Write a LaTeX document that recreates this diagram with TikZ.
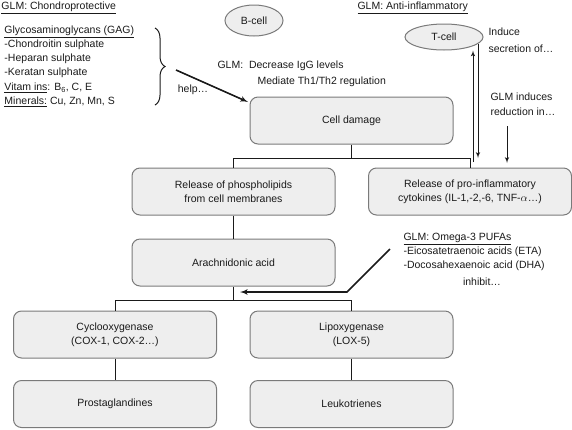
\documentclass[tikz,border=0pt]{standalone}
\usepackage{fontspec}
\setmainfont{Liberation Sans}
\usetikzlibrary{shapes,arrows,positioning,decorations.pathreplacing}
\definecolor{boxfill}{HTML}{EEEEEE}
\definecolor{boxline}{HTML}{7A7A7A}
\definecolor{ink}{HTML}{1A1A1A}
\newcommand{\glmfont}{\fontsize{10.5}{14}\selectfont}
\tikzset{
block/.style = {draw=boxline, fill=boxfill, rectangle, rounded corners=8pt, minimum height=47pt, minimum width=203pt, align=center, font=\glmfont, text=ink},
cell/.style  = {draw=boxline, fill=boxfill, ellipse, inner sep=0pt, font=\glmfont, text=ink},
tmp/.style   = {coordinate},
txt/.style   = {inner sep=0pt, align=left, font=\glmfont, text=ink},
heavy/.style = {->, line width=1.6pt}
}
\begin{document}
\begin{tikzpicture}[x=1pt, y=-1pt, >=latex', line width=1pt, draw=ink]
  \useasboundingbox (0,0) rectangle (572,429);

  % GLM texts
  \node [txt, anchor=west] (chondro) at (1,8)    {\underline{GLM: Chondroprotective}};
  \node [txt, anchor=west] (gag)     at (4,66.5) {\underline{Glycosaminoglycans (GAG)}\\-Chondroitin sulphate\\-Heparan sulphate\\-Keratan sulphate\\[1pt]\underline{Vitam ins}: B\textsubscript{6}, C, E\\\underline{Minerals:} Cu, Zn, Mn, S};
  \node [txt]              (help)    at (193,90) {help…};
  \node [cell, minimum width=58pt, minimum height=31pt] (bcell) at (254,20.5) {B-cell};
  \node [txt, anchor=west] (igg)     at (217,66) {GLM:\ \ Decrease IgG levels};
  \node [txt, anchor=west] (th)      at (257,82) {Mediate Th1/Th2 regulation};
  \node [txt, anchor=west] (anti)    at (357,7.5) {\underline{GLM: Anti-inflammatory}};
  \node [cell, minimum width=78pt, minimum height=26pt] (tcell) at (444,37) {T-cell};
  \node [txt, anchor=west] (induce)  at (488,40)    {Induce\\[3pt]secretion of…};
  \node [txt, anchor=west] (reduce)  at (490,104.5) {GLM induces\\[1pt]reduction in…};
  \node [txt, anchor=west] (omega)   at (403,252) {\underline{GLM: Omega-3 PUFAs}\\-Eicosatetraenoic acids (ETA)\\-Docosahexaenoic acid (DHA)};
  \node [txt]              (inhibit) at (482,282) {inhibit…};

  % cascade
  \node [block] (damage) at (351.5,120.5) {Cell damage};
  \node [tmp, below of=damage, node distance=37.5pt]                  (split1) {};
  \node [block, below of=damage, node distance=71pt, xshift=-118pt]   (phos)   {Release of phospholipids\\from cell membranes};
  \node [block, right of=phos, node distance=236.5pt]                 (cyto)   {Release of pro-inflammatory\\cytokines (IL-1,-2,-6, TNF-$\alpha$…)};
  \node [block, below of=phos, node distance=71pt]                    (arach)  {Arachnidonic acid};
  \node [tmp, below of=arach, node distance=37.5pt]                   (split2) {};
  \node [block, below of=arach, node distance=72pt, xshift=-118.5pt]  (cyclo)  {Cyclooxygenase\\(COX-1, COX-2…)};
  \node [block, right of=cyclo, node distance=236.5pt]                (lipo)   {Lipoxygenase\\(LOX-5)};
  \node [block, below of=cyclo, node distance=69.5pt]                 (prosta) {Prostaglandines};
  \node [block, right of=prosta, node distance=236.5pt]               (leuko)  {Leukotrienes};

  \coordinate (bracetop)   at (155,28);
  \coordinate (bracebot)   at (155,105);
  \coordinate (helpstart)  at (176,70);
  \coordinate (helpend)    at (248,102);
  \coordinate (upfoot)     at (473,162);
  \coordinate (downfoot)   at (478,158);
  \coordinate (redtop)     at (507,126);
  \coordinate (redfoot)    at (507,163);
  \coordinate (omegafoot)  at (390,249);
  \coordinate (omegabend)  at (347,292);
  \coordinate (omegatip)   at (240,292);

  \draw (damage) -- (split1) -| (phos);
  \draw (split1) -| (cyto);
  \draw (phos) -- (arach);
  \draw (arach) -- (split2) -| (cyclo);
  \draw (split2) -| (lipo);
  \draw (cyclo) -- (prosta);
  \draw (lipo) -- (leuko);

  \draw [decorate, decoration={brace, amplitude=10pt}] (bracetop) -- (bracebot);
  \draw [heavy] (helpstart) -- (helpend);
  \draw [->] (upfoot) -- (upfoot |- tcell.south);
  \draw [->] (tcell.-11 -| downfoot) -- (downfoot);
  \draw [->] (redtop) -- (redfoot);
  \draw [heavy] (omegafoot) -- (omegabend) -- (omegatip);
\end{tikzpicture}
\end{document}
